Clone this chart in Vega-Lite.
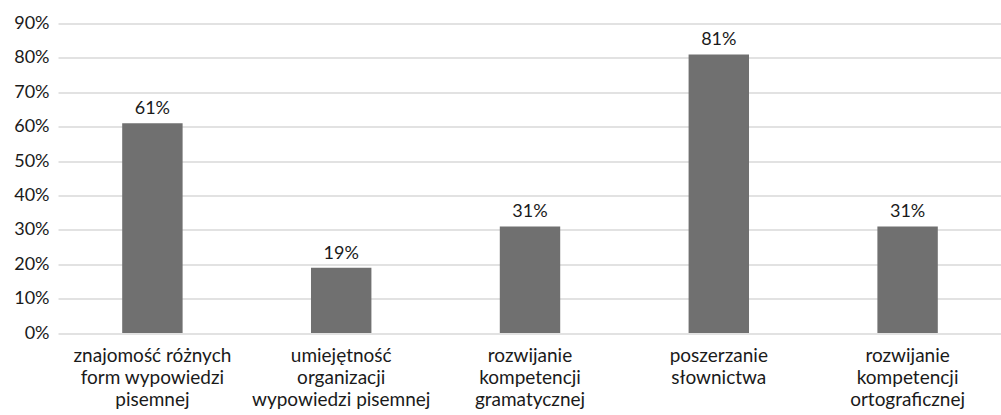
{
  "$schema": "https://vega.github.io/schema/vega-lite/v6.json",
  "width": 944,
  "height": 309.5,
  "autosize": {"type": "none"},
  "padding": {"left": 58, "top": 23.5, "right": 0, "bottom": 82},
  "background": "white",
  "config": {"view": {"stroke": null}, "font": "Lato"},
  "data": {"values": [
    {"cat": "znajomość różnych|form wypowiedzi|pisemnej", "v": 0.61},
    {"cat": "umiejętność|organizacji|wypowiedzi pisemnej", "v": 0.19},
    {"cat": "rozwijanie|kompetencji|gramatycznej", "v": 0.31},
    {"cat": "poszerzanie|słownictwa", "v": 0.81},
    {"cat": "rozwijanie|kompetencji|ortograficznej", "v": 0.31}
  ]},
  "encoding": {
    "x": {"field": "cat", "type": "nominal", "sort": null,
      "scale": {"paddingInner": 0.68, "paddingOuter": 0.34},
      "axis": {"title": null, "labelAngle": 0, "domain": false, "ticks": false,
        "labelExpr": "split(datum.value, '|')", "labelFontSize": 19, "labelColor": "#1a1a1a",
        "labelLineHeight": 22, "labelPadding": 13, "labelFont": "Lato", "labelOverlap": false}},
    "y": {"field": "v", "type": "quantitative",
      "scale": {"domain": [0, 0.9]},
      "axis": {"title": null, "format": ".0%", "values": [0,0.1,0.2,0.3,0.4,0.5,0.6,0.7,0.8,0.9],
        "domain": false, "ticks": false, "gridColor": "#d9d9d9", "gridWidth": 1.5,
        "labelOverlap": false, "labelFlush": false,
        "labelFontSize": 18, "labelColor": "#1a1a1a", "labelPadding": 9, "labelFont": "Lato"}}
  },
  "layer": [
    {"mark": {"type": "bar", "color": "#707070"}},
    {"mark": {"type": "text", "baseline": "bottom", "dy": -5, "fontSize": 18, "color": "#1a1a1a"},
      "encoding": {"text": {"field": "v", "type": "quantitative", "format": ".0%"}}}
  ]
}
